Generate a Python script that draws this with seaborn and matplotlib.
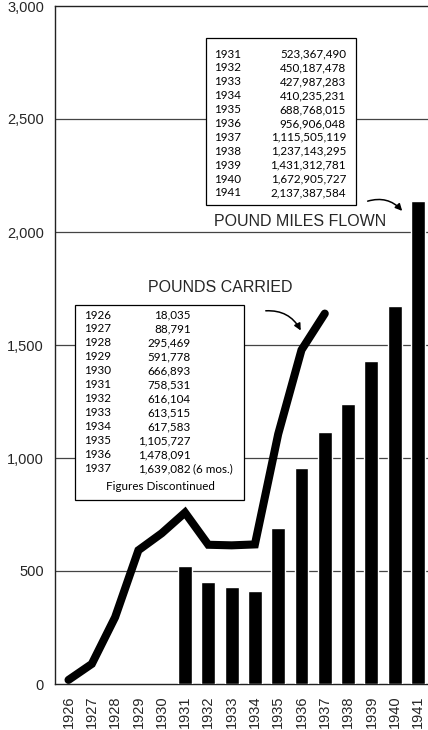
import numpy as np
import pandas as pd
import matplotlib
matplotlib.use("Agg")
import matplotlib.pyplot as plt
from matplotlib.patches import Rectangle
from matplotlib.ticker import FuncFormatter
import seaborn as sns

# pounds carried (thousands), 1926-1937
carried_years = [1926, 1927, 1928, 1929, 1930, 1931, 1932, 1933, 1934, 1935, 1936, 1937]
carried_vals = [18035, 88791, 295469, 591778, 666893, 758531, 616104, 613515, 617583,
                1105727, 1478091, 1639082]
carried_labels = ["18,035", "88,791", "295,469", "591,778", "666,893", "758,531", "616,104",
                  "613,515", "617,583", "1,105,727", "1,478,091", "1,639,082"]

# pound miles flown (millions), 1931-1941
miles_years = [1931, 1932, 1933, 1934, 1935, 1936, 1937, 1938, 1939, 1940, 1941]
miles_vals = [523367490, 450187478, 427987283, 410235231, 688768015, 956906048,
              1115505119, 1237143295, 1431312781, 1672905727, 2137387584]
miles_labels = ["523,367,490", "450,187,478", "427,987,283", "410,235,231", "688,768,015",
                "956,906,048", "1,115,505,119", "1,237,143,295", "1,431,312,781",
                "1,672,905,727", "2,137,387,584"]

all_years = list(range(1926, 1942))
yticks = [0, 500, 1000, 1500, 2000, 2500, 3000]

sns.set_style("white")
plt.rcParams["font.family"] = ["Liberation Sans", "DejaVu Sans"]

df_miles = pd.DataFrame({"year": miles_years, "value": np.array(miles_vals) / 1e6})
df_carried = pd.DataFrame({"year": carried_years, "value": np.array(carried_vals) / 1e3})

fig = plt.figure(figsize=(4.28, 7.3), dpi=100)
ax = fig.add_axes([55 / 428, 46 / 730, 373 / 428, 678 / 730])

for v in yticks[1:-1]:
    ax.axhline(v, color="#444444", lw=0.9, zorder=0)

sns.barplot(data=df_miles, x="year", y="value", native_scale=True, width=0.6,
            color="black", saturation=1, ax=ax, zorder=3)
sns.lineplot(data=df_carried, x="year", y="value", color="black", lw=5.8, ax=ax,
             zorder=4, solid_capstyle="round", solid_joinstyle="miter")

ax.set_xlim(1925.42, 1941.43)
ax.set_ylim(0, 3000)
ax.set_xticks(all_years)
ax.set_xticklabels([str(y) for y in all_years], rotation=90, fontsize=10.5)
ax.set_yticks(yticks)
ax.yaxis.set_major_formatter(FuncFormatter(lambda v, p: f"{int(v):,}"))
ax.tick_params(axis="y", length=5, width=0.9, direction="out", labelsize=10.5, pad=3)
ax.tick_params(axis="x", length=0, pad=8)
ax.set_xlabel("")
ax.set_ylabel("")
ax.spines["right"].set_visible(False)
for s in ["left", "top", "bottom"]:
    ax.spines[s].set_linewidth(1.0)
    ax.spines[s].set_color("#222222")


def fx(px):
    return (px - 55) / 373


def fy(py):
    return (684 - py) / 678


tfont = dict(family=["Lato", "DejaVu Sans"], fontsize=8.4, color="black", zorder=6)

# pound miles table
ax.add_patch(Rectangle((fx(206), fy(205)), fx(356) - fx(206), fy(38) - fy(205),
                       transform=ax.transAxes, facecolor="white", edgecolor="black",
                       lw=0.9, zorder=5))
for i, (yr, lab) in enumerate(zip(miles_years, miles_labels)):
    py = 54 + i * 13.9
    ax.text(fx(214), fy(py), str(yr), transform=ax.transAxes, ha="left", va="center", **tfont)
    ax.text(fx(346), fy(py), lab, transform=ax.transAxes, ha="right", va="center", **tfont)

# pounds carried table
ax.add_patch(Rectangle((fx(75), fy(500)), fx(244) - fx(75), fy(305) - fy(500),
                       transform=ax.transAxes, facecolor="white", edgecolor="black",
                       lw=0.9, zorder=5))
for i, (yr, lab) in enumerate(zip(carried_years, carried_labels)):
    py = 315 + i * 14.0
    ax.text(fx(84), fy(py), str(yr), transform=ax.transAxes, ha="left", va="center", **tfont)
    ax.text(fx(191), fy(py), lab, transform=ax.transAxes, ha="right", va="center", **tfont)
ax.text(fx(193), fy(315 + 11 * 14.0), "(6 mos.)", transform=ax.transAxes, ha="left",
        va="center", **tfont)
ax.text(fx(160), fy(487), "Figures Discontinued", transform=ax.transAxes, ha="center",
        va="center", **tfont)

ax.text(fx(300), fy(221), "POUND MILES FLOWN", transform=ax.transAxes, ha="center",
        va="center", fontsize=11.5, zorder=6)
ax.text(fx(220), fy(288), "POUNDS CARRIED", transform=ax.transAxes, ha="center",
        va="center", fontsize=11.5, zorder=6)

arrow = dict(arrowstyle="-|>", color="black", lw=1.1, mutation_scale=10,
             connectionstyle="arc3,rad=-0.35")
ax.annotate("", xy=(fx(404), fy(213)), xytext=(fx(365), fy(202)),
            xycoords="axes fraction", textcoords="axes fraction", arrowprops=arrow, zorder=6)
ax.annotate("", xy=(fx(302), fy(333)), xytext=(fx(263), fy(311)),
            xycoords="axes fraction", textcoords="axes fraction", arrowprops=arrow, zorder=6)

fig.savefig("out.png", dpi=100)
